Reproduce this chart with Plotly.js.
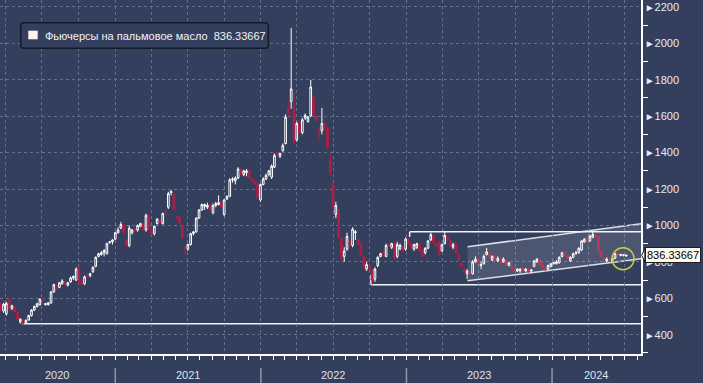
<!DOCTYPE html>
<html>
<head>
<meta charset="utf-8">
<script src="https://cdn.plot.ly/plotly-3.0.1.min.js"></script>
<style>html,body{margin:0;padding:0;background:#343f5e;}#chart{width:703px;height:383px;}</style>
</head>
<body>
<div id="chart"></div>
<script>
// ---- Data: weekly candles (Friday dates) ----
const md2020 = ["03-20","03-27","04-03","04-10","04-17","04-24","05-01","05-08","05-15","05-22","05-29","06-05","06-12","06-19","06-26","07-03","07-10","07-17","07-24","07-31","08-07","08-14","08-21","08-28","09-04","09-11","09-18","09-25","10-02","10-09","10-16","10-23","10-30","11-06","11-13","11-20","11-27","12-04","12-11","12-18","12-25"];
const md2021 = ["01-01","01-08","01-15","01-22","01-29","02-05","02-12","02-19","02-26","03-05","03-12","03-19","03-26","04-02","04-09","04-16","04-23","04-30","05-07","05-14","05-21","05-28","06-04","06-11","06-18","06-25","07-02","07-09","07-16","07-23","07-30","08-06","08-13","08-20","08-27","09-03","09-10","09-17","09-24","10-01","10-08","10-15","10-22","10-29","11-05","11-12","11-19","11-26","12-03","12-10","12-17","12-24","12-31"];
const md2022 = ["01-07","01-14","01-21","01-28","02-04","02-11","02-18","02-25","03-04","03-11","03-18","03-25","04-01","04-08","04-15","04-22","04-29","05-06","05-13","05-20","05-27","06-03","06-10","06-17","06-24","07-01","07-08","07-15","07-22","07-29","08-05","08-12","08-19","08-26","09-02","09-09","09-16","09-23","09-30","10-07","10-14","10-21","10-28","11-04","11-11","11-18","11-25","12-02","12-09","12-16","12-23","12-30"];
const md2023 = ["01-06","01-13","01-20","01-27","02-03","02-10","02-17","02-24","03-03","03-10","03-17","03-24","03-31","04-07","04-14","04-21","04-28","05-05","05-12","05-19","05-26","06-02","06-09","06-16","06-23","06-30","07-07","07-14","07-21","07-28","08-04","08-11","08-18","08-25","09-01","09-08","09-15","09-22","09-29","10-06","10-13","10-20","10-27","11-03","11-10","11-17","11-24","12-01","12-08","12-15","12-22","12-29"];
const md2024 = ["01-05","01-12","01-19","01-26","02-02","02-09","02-16","02-23","03-01","03-08","03-15","03-22","03-29","04-05","04-12","04-19","04-26","05-03","05-10","05-17","05-24","05-31","06-07","06-14","06-21","06-28","07-05"];

const opens = [
565,530,515,598,545,550,525,470,480,465,
480,505,535,555,565,600,565,565,575,635,
670,660,680,690,672,690,712,700,765,695,
680,725,725,745,775,830,840,850,845,905,
910,925,960,985,1005,920,890,960,985,975,
995,1010,975,1050,975,955,1010,1030,1010,1075,
1100,1180,1170,1050,1045,1000,880,870,895,955,
965,1040,1085,1105,1100,1115,1070,1110,1115,1130,
1060,1145,1160,1250,1245,1260,1310,1280,1290,1300,
1255,1240,1230,1140,1225,1255,1280,1265,1320,1400,
1380,1410,1450,1640,1680,1650,1470,1570,1510,1590,
1570,1600,1700,1600,1530,1520,1560,1535,1360,1230,
1060,1080,930,830,870,910,890,960,920,900,
830,760,780,760,705,780,830,850,830,895,
880,900,830,870,880,870,925,900,870,880,
900,865,850,875,920,945,900,910,860,900,
940,920,880,900,840,790,760,735,745,735,
800,815,780,790,840,850,810,830,805,820,
800,810,780,780,765,750,750,765,750,760,
750,775,800,810,790,765,760,775,790,790,
795,830,850,835,805,825,845,850,865,910,
930,915,935,945,940,860,820,805,815,805,
820,845,835,835,832];
const highs = [
580,575,580,605,565,555,530,490,482,485,
510,540,560,575,600,605,575,580,640,680,
675,690,705,695,690,720,725,770,775,705,
725,735,740,775,830,850,860,870,905,915,
925,965,990,1020,1010,925,1000,980,990,1005,
1015,1015,1065,1060,985,1000,1040,1035,1070,1085,
1185,1195,1180,1055,1050,1010,890,900,960,970,
1045,1090,1120,1120,1125,1120,1120,1130,1165,1140,
1145,1165,1260,1265,1270,1320,1320,1305,1310,1305,
1260,1250,1240,1230,1265,1285,1305,1335,1395,1405,
1400,1450,1610,1680,2085,1730,1570,1580,1590,1615,
1600,1800,1720,1610,1540,1645,1570,1540,1400,1240,
1130,1090,935,880,960,920,990,975,925,905,
835,800,790,765,770,830,850,860,900,900,
905,910,910,900,885,935,935,905,900,905,
905,870,880,920,960,950,905,915,900,970,
945,925,905,910,845,795,765,760,750,810,
830,820,800,840,877,852,835,835,830,825,
825,815,800,785,770,765,765,770,765,765,
760,810,820,815,795,770,785,795,800,810,
830,855,855,840,830,850,860,880,920,930,
940,950,965,950,945,865,825,825,820,825,
850,850,845,842,840];
const lows = [
525,520,505,530,535,520,480,460,455,460,
478,500,530,550,560,585,560,560,570,630,
650,655,675,670,665,685,700,695,680,670,
672,715,715,740,770,825,835,830,840,900,
895,920,955,980,950,880,880,950,965,965,
990,970,965,970,950,945,1005,1010,1005,1060,
1090,1165,1080,1035,1010,925,835,860,890,945,
960,1035,1080,1085,1090,1080,1060,1100,1110,1095,
1050,1140,1155,1235,1225,1255,1275,1270,1270,1255,
1235,1225,1140,1130,1220,1250,1270,1255,1315,1385,
1370,1405,1445,1600,1640,1450,1460,1500,1500,1580,
1565,1595,1600,1570,1460,1500,1530,1420,1270,1080,
1040,930,810,800,860,880,880,920,890,830,
760,750,760,675,690,770,825,830,825,880,
870,810,820,865,850,860,890,870,860,870,
855,820,840,870,915,900,880,835,855,895,
910,880,870,840,800,770,740,705,730,730,
795,790,760,785,835,820,805,805,800,790,
795,775,775,760,745,745,740,745,745,740,
740,770,795,780,760,750,755,770,785,785,
790,825,830,815,800,820,840,845,860,905,
900,910,930,930,855,820,800,800,805,800,
815,830,830,830,828];
const closes = [
535,568,572,540,558,525,485,485,462,478,
505,535,555,570,595,588,570,575,635,675,
655,685,695,675,685,712,720,760,690,675,
718,720,735,770,825,845,850,862,900,910,
920,960,975,1005,960,895,985,975,970,1000,
1010,975,1055,980,955,995,1035,1015,1065,1070,
1175,1185,1090,1040,1015,930,870,895,955,965,
1040,1085,1115,1115,1110,1085,1110,1120,1125,1100,
1140,1160,1250,1255,1260,1310,1280,1300,1300,1260,
1240,1230,1150,1225,1255,1275,1300,1325,1385,1390,
1395,1440,1595,1613,1750,1460,1560,1510,1580,1605,
1595,1760,1610,1575,1510,1560,1540,1430,1290,1100,
1110,935,820,860,940,890,980,965,895,840,
770,785,765,700,760,825,845,835,890,885,
900,820,895,890,860,925,900,875,895,900,
860,830,875,915,950,905,890,840,895,945,
920,885,895,850,805,775,745,750,735,800,
815,795,785,830,855,825,830,810,820,795,
815,780,795,765,750,760,760,750,760,745,
755,805,815,785,770,755,780,790,795,800,
825,850,840,820,825,845,850,875,915,925,
915,940,950,935,860,825,810,815,810,820,
845,835,840,838,836.33667];

const seriesName = "Фьючерсы на пальмовое масло";
const lastPrice = "836.33667";
const yTickVals = [400,600,800,1000,1200,1400,1600,1800,2000,2200];
const yMinorVals = [300,500,700,900,1100,1300,1500,1700,1900,2100];
const years = ["2020","2021","2022","2023","2024"];
const yearLabelDates = ["2020-08-09","2021-07-02","2022-07-02","2023-07-02","2024-04-21"];
const yearStarts = ["2021-01-01","2022-01-01","2023-01-01","2024-01-01"];

// analysis overlays (support line, range box, rising channel)
const supportLevel = 460;
const rangeLow = 674, rangeHigh = 965;
const channelX = ["2023-06-03","2024-08-11"];
const channelTop = [883, 1009];
const channelBottom = [696, 817];

const weeks = [].concat(
  md2020.map(d => "2020-" + d), md2021.map(d => "2021-" + d),
  md2022.map(d => "2022-" + d), md2023.map(d => "2023-" + d),
  md2024.map(d => "2024-" + d));

const BG = "#343f5e";
const RED = "#b01f45";
const GRID = "#63708f";
const FONT = "Liberation Sans, Arial, sans-serif";
const XEND = "2024-08-11";

const traces = [
  { type: "scatter", mode: "lines",
    x: [channelX[0], channelX[1], channelX[1], channelX[0], channelX[0]],
    y: [channelTop[0], channelTop[1], channelBottom[1], channelBottom[0], channelTop[0]],
    fill: "toself", fillcolor: "rgba(255,255,255,0.12)", line: {width: 0},
    hoverinfo: "skip", showlegend: false },
  { type: "candlestick", x: weeks, open: opens, high: highs, low: lows, close: closes,
    increasing: {line: {color: "#ffffff", width: 1}, fillcolor: BG},
    decreasing: {line: {color: RED, width: 1}, fillcolor: RED},
    whiskerwidth: 0, hoverinfo: "skip", showlegend: false, name: seriesName }
];

const lineStyle = {color: "#f2f4f8", width: 1.5};
const shapes = [
  {type: "line", xref: "x", yref: "y", x0: "2020-05-12", x1: XEND, y0: supportLevel, y1: supportLevel, line: lineStyle, layer: "below"},
  {type: "line", xref: "x", yref: "y", x0: "2022-10-04", x1: XEND, y0: rangeLow, y1: rangeLow, line: lineStyle, layer: "below"},
  {type: "line", xref: "x", yref: "y", x0: "2022-10-04", x1: "2022-10-04", y0: rangeLow, y1: rangeLow + 55, line: lineStyle, layer: "below"},
  {type: "line", xref: "x", yref: "y", x0: "2023-01-09", x1: XEND, y0: rangeHigh, y1: rangeHigh, line: lineStyle, layer: "below"},
  {type: "line", xref: "x", yref: "y", x0: "2023-01-09", x1: "2023-01-09", y0: rangeHigh, y1: rangeHigh - 28, line: lineStyle, layer: "below"},
  {type: "line", xref: "x", yref: "y", x0: channelX[0], x1: channelX[1], y0: channelTop[0], y1: channelTop[1], line: {color: "rgba(235,238,245,0.9)", width: 1.5}, layer: "below"},
  {type: "line", xref: "x", yref: "y", x0: channelX[0], x1: channelX[1], y0: channelBottom[0], y1: channelBottom[1], line: {color: "rgba(235,238,245,0.9)", width: 1.5}, layer: "below"},
  {type: "circle", xref: "x", yref: "y", xsizemode: "pixel", ysizemode: "pixel",
   xanchor: "2024-06-27", yanchor: 817, x0: -11, x1: 11, y0: -11, y1: 11,
   line: {color: "#cfcd3a", width: 1.5}},
  // legend box
  {type: "path", xref: "paper", yref: "paper",
   path: "M 0.0370 0.9359 L 0.4139 0.9359 Q 0.4186 0.9359 0.4186 0.9274 L 0.4186 0.8721 Q 0.4186 0.8636 0.4139 0.8636 L 0.0370 0.8636 Q 0.0323 0.8636 0.0323 0.8721 L 0.0323 0.9274 Q 0.0323 0.9359 0.0370 0.9359 Z",
   fillcolor: BG, line: {color: "#141a29", width: 1.5}},
  {type: "rect", xref: "paper", yref: "paper", x0: 0.0441, x1: 0.0588, y0: 0.889, y1: 0.9133,
   fillcolor: "#fff2ef", line: {width: 0}},
  // last price pointer
  {type: "path", xref: "paper", yref: "y",
   path: "M 1.0010 836.34 L 1.0060 872 L 1.0060 800 Z",
   fillcolor: "#fdf9ef", line: {color: "#1e1e1e", width: 1}}
];
yearStarts.forEach(d => shapes.push({type: "line", xref: "x", yref: "paper", x0: d, x1: d,
  y0: -0.040, y1: -0.085, line: {color: "#8e97ab", width: 1.5}}));

const annotations = [
  {xref: "paper", yref: "paper", x: 0.0671, y: 0.8997, xanchor: "left", yanchor: "middle",
   text: seriesName + "\u00a0 " + lastPrice, showarrow: false,
   font: {family: FONT, size: 11, color: "#f2f2f2"}},
  {xref: "paper", yref: "y", x: 1.0055, y: 836.34, xanchor: "left", yanchor: "middle",
   text: lastPrice, showarrow: false, bgcolor: "#fdf9ef", bordercolor: "#1e1e1e",
   borderwidth: 1, borderpad: 1, font: {family: FONT, size: 11, color: "#000000"}}
];
years.forEach((yr, i) => annotations.push({xref: "x", yref: "paper", x: yearLabelDates[i], y: -0.059,
  xanchor: "center", yanchor: "middle", text: yr, showarrow: false,
  font: {family: FONT, size: 11, color: "#dde1ea"}}));

const layout = {
  width: 703, height: 383,
  margin: {l: 0, r: 62, t: 0, b: 29, pad: 0},
  paper_bgcolor: BG, plot_bgcolor: BG,
  showlegend: false,
  boxgap: 0.15,
  xaxis: {
    type: "date", range: ["2020-03-18", XEND], rangeslider: {visible: false},
    showgrid: true, gridcolor: GRID, griddash: "dot", gridwidth: 1,
    tick0: "2020-01-01", dtick: "M3", ticks: "outside", ticklen: 4, tickcolor: "#ffffff", tickwidth: 1,
    showticklabels: false, showline: true, linecolor: "#ffffff", linewidth: 1.5, zeroline: false,
    minor: {dtick: "M1", tick0: "2020-01-01", ticks: "outside", ticklen: 4, tickcolor: "#ffffff", showgrid: false},
    fixedrange: true
  },
  yaxis: {
    side: "right", range: [294, 2238], tickmode: "array", tickvals: yTickVals,
    ticktext: yTickVals.map(v => '<span style="font-size:10px">\u25BA</span>' + v),
    ticks: "", showline: true, linecolor: "#ffffff", linewidth: 1.5, zeroline: false,
    showgrid: true, gridcolor: GRID, griddash: "dot", gridwidth: 1,
    tickfont: {family: FONT, size: 11, color: "#e8ebf1"},
    minor: {tickmode: "array", tickvals: yMinorVals, ticks: "outside", ticklen: 5, tickcolor: "#ffffff", showgrid: false},
    fixedrange: true
  },
  shapes: shapes,
  annotations: annotations
};

Plotly.newPlot("chart", traces, layout, {displayModeBar: false, staticPlot: true});
</script>
</body>
</html>
